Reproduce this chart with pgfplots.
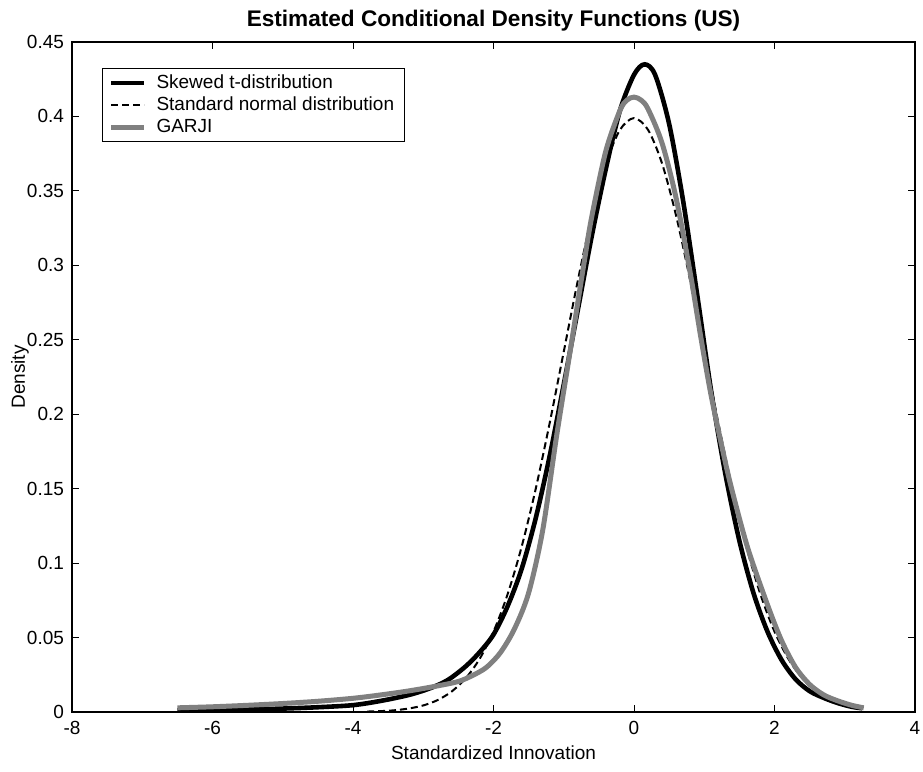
\documentclass[border=0pt]{standalone}
\usepackage{pgfplots}
\pgfplotsset{compat=1.18}
\usepackage{fontspec}
\setmainfont{Liberation Sans}
\definecolor{garji}{RGB}{128,128,128}

\begin{document}
\begin{tikzpicture}
\path[use as bounding box] (-36pt,-30pt) rectangle (425.5pt,356pt);
\begin{axis}[
  at={(0,0)}, anchor=south west,
  scale only axis,
  width=421.5pt, height=335pt,
  xmin=-8, xmax=4, ymin=0, ymax=0.45,
  xtick={-8,-6,-4,-2,0,2,4},
  xticklabels={-8,-6,-4,-2,0,2,4},
  ytick={0,0.05,0.1,0.15,0.2,0.25,0.3,0.35,0.4,0.45},
  yticklabels={0,0.05,0.1,0.15,0.2,0.25,0.3,0.35,0.4,0.45},
  tick align=inside,
  major tick length=3.5pt,
  tick style={black, line width=0.5pt},
  axis line style={line width=0.8pt},
  ticklabel style={font=\fontsize{9.5}{11}\selectfont},
  xticklabel style={yshift=-1pt},
  yticklabel style={xshift=-0.5pt},
  label style={font=\fontsize{9.5}{11}\selectfont},
  xlabel={Standardized Innovation},
  ylabel={Density},
  xlabel style={at={(axis description cs:0.5,-0.0716)}, anchor=base},
  ylabel style={at={(axis description cs:-0.0617,0.5)}, anchor=center},
  title={Estimated Conditional Density Functions (US)},
  title style={font=\fontsize{11.3}{13}\selectfont\bfseries, at={(axis description cs:0.5,1)}, anchor=base, yshift=2pt},
  legend style={at={(axis description cs:0.0356,0.961)}, anchor=north west,
    font=\fontsize{9.5}{11}\selectfont, draw=black, line width=0.5pt,
    inner xsep=3pt, inner ysep=1pt, row sep=-1.2pt},
  legend cell align=left,
  legend image code/.code={\draw[#1] (0pt,0pt) -- (16.5pt,0pt); \path (19.5pt,0pt);},
]
\addplot[black, line width=2.3pt, smooth] coordinates {
(-6.5,0.0010) (-6.0,0.0013) (-5.5,0.0017) (-5.0,0.0023) (-4.5,0.0032)
(-4.0,0.0046) (-3.6,0.0075) (-3.2,0.0115) (-2.9,0.0160) (-2.65,0.0215)
(-2.4,0.0305) (-2.2,0.0400) (-2.0,0.0520) (-1.8,0.0710) (-1.6,0.0960)
(-1.4,0.1300) (-1.2,0.1720) (-1.0,0.2200) (-0.8,0.2700) (-0.6,0.3200)
(-0.4,0.3650) (-0.2,0.4040) (0.0,0.4280) (0.15,0.4350) (0.3,0.4280)
(0.5,0.3950) (0.7,0.3430) (0.9,0.2800) (1.1,0.2150) (1.3,0.1600)
(1.5,0.1150) (1.7,0.0800) (1.9,0.0540) (2.1,0.0350) (2.3,0.0220)
(2.5,0.0140) (2.7,0.0095) (2.9,0.0060) (3.1,0.0035) (3.25,0.0025)
};
\addlegendentry{Skewed t-distribution}
\addplot[black, line width=1pt, dash pattern=on 3.5pt off 2pt, smooth] coordinates {
(-3.8,0.0003) (-3.6,0.0006) (-3.4,0.0012) (-3.2,0.0024) (-3.0,0.0044)
(-2.8,0.0079) (-2.6,0.0136) (-2.4,0.0224) (-2.2,0.0355) (-2.0,0.0540)
(-1.8,0.0790) (-1.6,0.1109) (-1.4,0.1497) (-1.2,0.1942) (-1.0,0.2420)
(-0.8,0.2897) (-0.6,0.3332) (-0.4,0.3683) (-0.2,0.3910) (0.0,0.3989)
(0.2,0.3910) (0.4,0.3683) (0.6,0.3332) (0.8,0.2897) (1.0,0.2420)
(1.2,0.1942) (1.4,0.1497) (1.6,0.1109) (1.8,0.0790) (2.0,0.0540)
(2.2,0.0355) (2.4,0.0224) (2.6,0.0136) (2.8,0.0079) (3.0,0.0044)
(3.2,0.0024)
};
\addlegendentry{Standard normal distribution}
\addplot[garji, line width=2.5pt, smooth] coordinates {
(-6.5,0.0028) (-6.0,0.0035) (-5.5,0.0045) (-5.0,0.0057) (-4.5,0.0072)
(-4.0,0.0092) (-3.6,0.0115) (-3.2,0.0142) (-2.8,0.0175) (-2.5,0.0205)
(-2.3,0.0245) (-2.1,0.0300) (-1.9,0.0400) (-1.7,0.0560) (-1.5,0.0800)
(-1.3,0.1220) (-1.1,0.1860) (-0.9,0.2450) (-0.7,0.3050) (-0.6,0.3330)
(-0.4,0.3770) (-0.2,0.4040) (-0.1,0.4110) (0.0,0.4130) (0.1,0.4110)
(0.2,0.4050) (0.4,0.3820) (0.6,0.3450) (0.8,0.2950) (0.95,0.2520)
(1.1,0.2120) (1.28,0.1720) (1.4,0.1480) (1.62,0.1100) (1.9,0.0720)
(2.1,0.0480) (2.3,0.0300) (2.5,0.0185) (2.7,0.0115) (2.9,0.0075)
(3.1,0.0045) (3.27,0.0028)
};
\addlegendentry{GARJI}
\end{axis}
\end{tikzpicture}
\end{document}
